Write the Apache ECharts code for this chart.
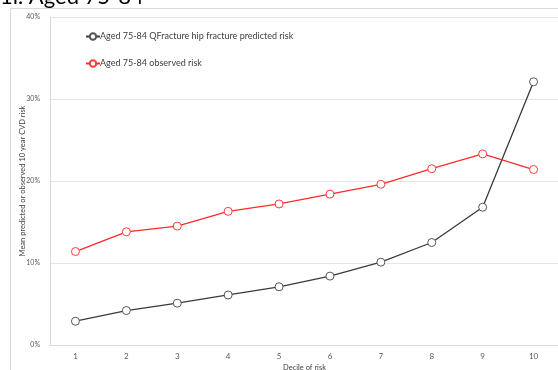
<!DOCTYPE html>
<html><head><meta charset="utf-8">
<script src="https://cdn.jsdelivr.net/npm/echarts@6/dist/echarts.min.js"></script>
<style>html,body{margin:0;padding:0;background:#fff}#c{width:558px;height:370px}</style>
</head><body><div id="c"></div>
<script>
const deciles = ['1','2','3','4','5','6','7','8','9','10'];
const predicted = [2.9, 4.2, 5.1, 6.1, 7.1, 8.4, 10.1, 12.5, 16.8, 32.1];
const observed = [11.4, 13.8, 14.5, 16.3, 17.2, 18.4, 19.6, 21.5, 23.3, 21.4];
const seriesNames = ['Aged 75-84 QFracture hip fracture predicted risk', 'Aged 75-84 observed risk'];
const titleText = '1i. Aged 75-84';
const xName = 'Decile of risk';
const yName = 'Mean predicted or observed 10 year CVD risk';

const font = 'Lato, "Open Sans", sans-serif';
const chart = echarts.init(document.getElementById('c'));
chart.setOption({
  animation: false,
  graphic: [
    {type:'rect', shape:{x:10.5,y:8.5,width:560,height:380}, style:{fill:'none', stroke:'#d9d9d9', lineWidth:1}, z:-1},
    {type:'text', left:0, top:-14, style:{text:titleText, font:'22px ' + font, fill:'#000'}}
  ],
  grid: {left:50, right:-1, top:17, bottom:25, containLabel:false, outerBoundsMode:'none'},
  legend: {
    orient:'vertical', left:80, top:27, itemWidth:14, itemHeight:8, itemGap:18,
    textStyle:{fontSize:9, color:'#404040', fontFamily:font, padding:[0,0,0,-5]},
    data: seriesNames
  },
  xAxis: {
    type:'category', data:deciles, boundaryGap:true,
    name:xName, nameLocation:'middle', nameGap:19, nameMoveOverlap:false,
    nameTextStyle:{fontSize:7.5, color:'#404040', fontFamily:font},
    axisLine:{show:true, lineStyle:{color:'#d9d9d9'}},
    axisTick:{show:false},
    axisLabel:{fontSize:8, color:'#595959', fontFamily:font, margin:7}
  },
  yAxis: {
    type:'value', min:0, max:40, interval:10,
    name:yName, nameLocation:'middle', nameGap:23, nameMoveOverlap:false,
    nameTextStyle:{fontSize:7.5, color:'#404040', fontFamily:font},
    axisLine:{show:true, lineStyle:{color:'#d9d9d9'}},
    axisTick:{show:false},
    splitLine:{lineStyle:{color:'#e6e6e6'}},
    axisLabel:{fontSize:7, color:'#595959', fontFamily:font, margin:10, formatter:'{value}%'}
  },
  series: [
    {name:seriesNames[0], type:'line', data:predicted, symbol:'circle', symbolSize:8,
     lineStyle:{color:'#3a3a3a', width:1.3},
     itemStyle:{color:'#fff', borderColor:'#555', borderWidth:1}},
    {name:seriesNames[1], type:'line', data:observed, symbol:'circle', symbolSize:8,
     lineStyle:{color:'#ff2a2a', width:1.3},
     itemStyle:{color:'#fff', borderColor:'#ff3b3b', borderWidth:1}}
  ]
});
</script></body></html>
